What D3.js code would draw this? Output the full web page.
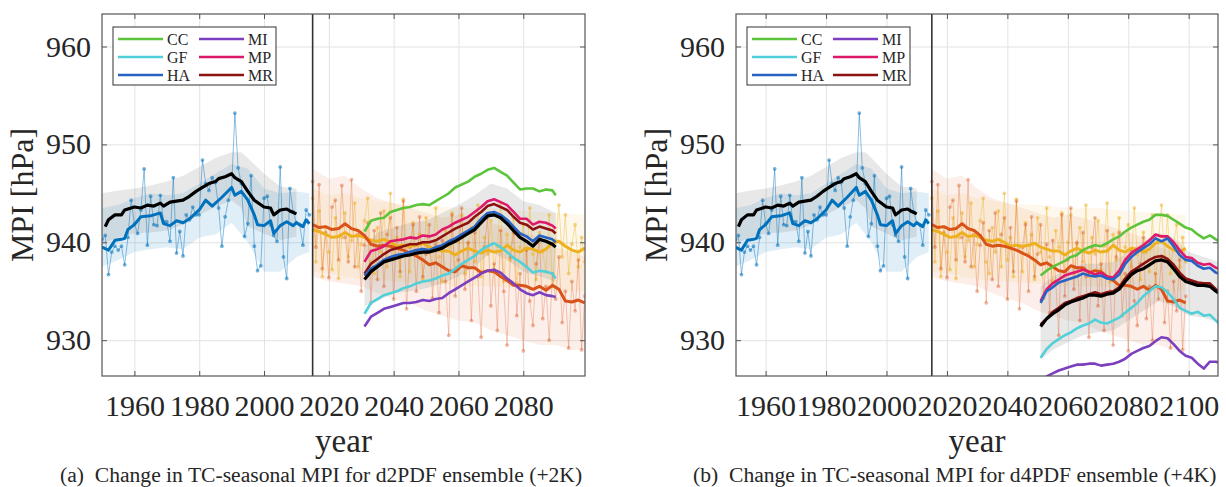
<!DOCTYPE html>
<html>
<head>
<meta charset="utf-8">
<script src="https://cdn.jsdelivr.net/npm/d3@7"></script>
<style>
  body { margin: 0; background: #fff; }
  svg text { font-family: "Liberation Serif", "Times New Roman", serif; fill: #262626; }
</style>
</head>
<body>
<svg id="chart" width="1226" height="487"></svg>
<script>
// ---- data ----
const histYears = d3.range(1950, 2015);
const histObs = [940.3,940.7,936.7,939.0,939.6,939.2,939.6,937.7,940.5,944.3,
  941.9,940.9,943.3,947.5,939.7,944.7,941.8,941.7,944.8,942.1,
  942.1,940.1,946.6,938.9,941.1,938.6,942.8,942.3,943.6,942.8,
  942.8,948.4,946.0,945.3,946.6,946.1,943.5,939.6,942.6,944.3,
  945.5,953.2,947.6,946.0,940.6,941.9,946.8,939.6,937.1,937.6,
  944.5,944.7,941.8,940.7,940.1,947.7,938.5,936.3,945.5,943.1,
  942.0,941.8,939.7,943.3,942.8];

const histSmoothYears = [1950,1952,1954,1956,1957,1958,1960,1962,1965,1968,1969,1971,1973,1975,1977,1980,1982,1984,1987,1990,1991,1993,1995,1997,1998,2000,2002,2003,2005,2007,2009,2010,2012,2013,2014];
const histSmooth = [939.5,939.2,940.2,940.3,940.4,941.3,941.8,942.6,942.7,943.0,941.9,941.7,942.2,942.0,942.4,943.3,944.3,943.7,944.6,945.6,944.8,945.2,944.3,942.8,941.8,941.7,942.2,940.9,941.7,942.1,941.7,942.0,941.6,942.3,941.9];

const histEnsYears = [1951,1952,1954,1956,1957,1960,1962,1964,1966,1968,1969,1971,1973,1975,1977,1979,1981,1983,1985,1986,1988,1990,1991,1993,1995,1997,2000,2002,2003,2005,2007,2008,2010];
const histEns = [941.6,942.3,942.8,942.8,943.3,943.6,943.5,943.8,943.7,944.0,943.7,944.1,944.2,944.3,944.7,945.2,945.6,946.0,946.2,946.5,946.7,947.0,946.6,946.2,945.2,944.3,943.6,943.5,942.8,943.3,943.4,943.2,942.9];

const obsBandYears = [1950,1955,1960,1965,1970,1975,1980,1985,1990,1995,2000,2005,2010,2014];
const obsBandUp = [943.5,943.8,944.5,945.0,944.8,945.0,946.0,947.0,948.0,947.5,945.5,945.0,945.2,945.0];
const obsBandLo = [937.5,938.2,939.0,939.3,939.5,939.3,940.5,940.8,942.0,940.0,937.0,937.0,938.5,939.0];

const histEnsBandYears = [1950,1955,1960,1965,1970,1975,1980,1985,1990,1993,1995,2000,2005,2010];
const histEnsBandUp = [945.0,945.3,945.5,945.8,946.2,946.8,947.7,948.6,949.2,949.2,948.6,947.0,945.7,945.5];
const histEnsBandLo = [939.8,940.5,940.9,941.0,941.2,941.8,942.8,943.6,944.3,943.5,941.6,940.9,940.2,940.6];

const futYears = d3.range(2015, 2100);
const futOrange = [946.2,939.5,945.9,937.3,941.0,936.4,943.6,944.3,938.2,945.8,
  940.5,938.0,946.4,937.5,940.8,935.0,939.7,942.0,933.8,941.2,
  936.2,943.0,935.5,940.8,942.5,934.2,941.5,937.0,944.2,933.2,
  939.5,941.8,935.0,942.6,936.5,938.8,941.8,934.3,939.8,932.8,
  940.2,936.0,930.5,942.8,934.5,938.2,943.5,935.2,940.0,932.0,
  941.0,936.5,930.3,939.5,942.5,933.5,937.8,931.0,941.2,935.0,
  929.5,938.5,941.0,932.5,936.8,928.9,939.2,934.0,931.5,937.8,
  940.5,932.2,935.5,930.0,936.8,934.2,938.5,931.8,935.0,929.2,
  936.0,933.0,938.2,929.0,934.5];
const futYellow = [944.5,938.0,943.2,936.5,941.5,939.0,937.2,942.5,936.3,940.5,
  943.0,938.5,940.2,944.0,937.5,939.8,942.2,944.5,938.0,936.8,
  941.5,939.0,943.2,937.5,945.0,938.2,940.5,936.5,944.4,939.5,
  937.0,942.0,938.8,940.8,936.2,942.5,939.0,937.8,943.5,938.5,
  936.0,941.2,939.5,943.0,937.0,940.0,942.8,936.8,939.8,941.5,
  938.0,943.8,936.5,940.5,938.8,942.2,937.2,939.6,944.0,936.0,
  940.8,938.2,942.5,935.8,939.5,941.8,937.5,943.5,938.8,936.2,
  941.0,939.0,937.0,942.8,935.5,940.2,943.8,938.5,942.8,936.8,
  939.8,941.8,937.5,940.5,938.0];

const futSmoothYears = [2015,2017,2019,2021,2023,2025,2027,2029,2031,2033,2035,2037,2039,2041,2043,2045,2047,2049,2051,2053,2055,2057,2059,2061,2063,2065,2067,2069,2071,2073,2075,2077,2079,2081,2083,2085,2087,2089,2091,2093,2095,2097,2099];
const futOrangeSmooth = [941.8,941.5,941.6,941.3,941.4,941.9,941.4,941.2,940.7,939.8,939.6,939.7,939.6,939.4,939.2,938.9,938.6,938.2,937.7,937.9,937.5,937.1,937.0,937.6,937.4,937.4,936.9,937.1,937.0,936.5,936.1,935.6,935.6,935.5,935.2,935.5,935.1,935.6,935.2,934.0,933.9,934.1,933.8];
const futYellowSmooth = [941.3,941.1,940.8,940.5,940.6,941.0,940.6,940.7,940.5,940.2,940.1,940.3,940.0,939.6,939.7,939.6,939.7,939.9,939.5,939.3,939.1,939.1,938.7,939.1,939.4,939.1,938.9,939.2,939.0,939.1,939.7,939.2,939.0,939.4,939.3,939.0,939.3,939.9,940.1,939.6,939.2,939.0,939.4];

const orangeBandYears = [2015,2020,2025,2030,2035,2040,2045,2050,2055,2060,2065,2070,2075,2080,2085,2090,2095,2099];
const orangeBandUp = [947.5,946.5,946.8,945.5,944.5,944.0,943.5,943.0,942.5,942.8,942.5,942.0,941.5,941.0,940.5,939.5,939.0,938.5];
const orangeBandLo = [936.5,936.0,935.8,935.5,934.8,934.2,933.8,933.0,932.5,932.0,931.8,931.0,930.5,930.0,929.5,929.5,929.0,929.0];
const yellowBandYears = [2015,2020,2025,2030,2040,2050,2060,2070,2080,2090,2099];
const yellowBandUp = [945.5,944.8,945.0,944.5,944.0,943.8,943.5,943.5,943.2,943.0,942.8];
const yellowBandLo = [937.0,936.8,936.5,936.2,936.0,935.8,935.5,935.5,935.2,935.0,935.0];

const modelNames = ["CC", "GF", "HA", "MI", "MP", "MR"];

// (a) +2K, 2031-2090
const yearsA = [2031,2033,2035,2037,2039,2041,2043,2045,2047,2049,2051,2053,2055,2057,2059,2061,2063,2065,2067,2069,2071,2073,2075,2077,2079,2081,2083,2085,2087,2089,2090];
const ccA = [941.1,942.2,942.4,942.5,943.1,943.3,943.5,943.6,943.8,943.9,943.8,944.2,944.6,945.0,945.6,945.9,946.2,946.7,947.0,947.4,947.6,947.2,946.8,946.1,945.4,945.5,945.5,945.2,945.4,945.3,944.8];
const gfA = [932.7,933.8,934.2,934.6,934.8,935.0,935.3,935.5,935.8,936.0,936.1,936.3,936.6,936.8,937.3,937.8,938.2,938.6,939.2,939.6,939.9,939.5,939.0,938.4,938.0,937.5,936.9,937.1,937.0,936.8,936.3];
const haA = [936.6,937.3,937.7,938.2,938.5,938.7,938.8,939.0,939.2,939.3,939.2,939.5,939.7,940.1,940.4,940.8,941.2,941.6,942.4,943.0,943.1,942.8,942.3,941.6,940.9,940.6,940.1,940.7,940.5,940.3,940.0];
const miA = [931.4,932.4,932.8,933.2,933.4,933.6,933.8,933.8,933.9,934.1,934.0,934.2,934.3,934.8,935.2,935.6,936.0,936.4,936.8,937.1,937.2,936.9,936.3,935.8,935.2,934.8,934.6,934.9,934.6,934.5,934.4];
const mpA = [938.0,939.1,939.3,939.6,940.1,940.2,940.3,940.5,940.4,940.7,940.6,940.8,941.3,941.6,942.0,942.3,942.6,943.1,943.6,944.2,944.4,944.1,943.8,943.1,942.4,942.4,941.8,942.1,942.0,941.7,941.4];
const mrA = [936.8,937.8,938.3,938.8,939.2,939.4,939.6,939.8,939.8,940.0,940.0,940.2,940.6,941.0,941.4,941.7,942.0,942.6,943.1,943.7,943.9,943.6,943.3,942.6,942.0,941.8,941.3,941.6,941.4,941.2,940.9];
const ensA = [936.2,937.0,937.5,938.0,938.2,938.4,938.6,938.7,938.9,939.0,939.0,939.2,939.4,939.8,940.1,940.5,940.9,941.3,942.0,942.7,942.8,942.5,941.9,941.2,940.5,940.1,939.6,940.3,940.1,939.8,939.5];
const ensBandYearsA = [2031,2035,2040,2045,2050,2055,2060,2065,2070,2075,2080,2085,2090];
const ensBandUpA = [939.5,941.0,941.5,942.0,942.2,943.0,943.8,944.8,946.0,945.5,944.2,943.8,943.0];
const ensBandLoA = [933.5,934.0,934.8,935.0,935.3,935.8,936.5,937.5,939.0,938.2,937.0,936.5,936.0];

// (b) +4K, 2051-2110
const yearsB = [2051,2053,2055,2057,2059,2061,2063,2065,2067,2069,2071,2073,2075,2077,2079,2081,2083,2085,2087,2089,2091,2093,2095,2097,2099,2101,2103,2105,2107,2109,2110];
const ccB = [936.6,937.1,937.5,937.8,938.1,938.5,938.7,939.2,939.5,939.7,939.6,939.9,940.3,940.6,941.1,941.5,941.8,942.1,942.3,942.8,942.8,942.7,942.3,941.9,941.5,941.3,940.8,940.4,940.7,940.3,940.1];
const gfB = [928.2,929.1,929.7,930.1,930.5,930.8,931.2,931.5,931.7,932.1,931.8,931.7,932.0,932.3,932.8,933.3,933.8,934.5,935.0,935.5,935.4,934.9,934.2,933.3,933.0,932.7,932.9,932.5,932.6,932.0,931.7];
const haB = [933.8,935.0,935.4,935.9,936.1,936.3,936.5,936.8,936.6,936.5,936.6,936.3,936.2,936.7,937.8,938.5,939.0,939.4,939.8,940.4,940.1,940.4,939.6,938.7,938.2,938.1,937.6,937.3,937.4,936.9,936.8];
const miB = [925.8,926.3,926.6,926.9,927.1,927.3,927.5,927.5,927.6,927.6,927.4,927.5,927.6,927.8,928.1,928.6,928.9,929.2,929.4,929.9,930.3,930.2,929.6,928.9,928.4,928.2,927.6,927.1,927.8,927.8,927.7];
const mpB = [934.0,935.2,935.8,936.2,936.6,936.8,937.0,937.2,937.0,936.7,936.9,936.5,936.4,937.1,938.2,938.9,939.3,939.7,940.2,940.8,940.6,940.6,940.0,939.2,938.5,938.4,937.9,937.7,937.8,937.4,937.3];
const mrB = [931.6,932.2,932.9,933.3,933.8,934.0,934.3,934.5,934.7,934.9,934.7,934.9,935.0,935.4,936.3,937.0,937.4,937.8,938.2,938.5,938.6,938.3,937.7,936.9,936.3,936.1,935.9,935.8,935.8,935.2,935.0];
const ensB = [931.4,932.2,932.7,933.1,933.6,933.9,934.1,934.3,934.6,934.6,934.5,934.7,934.8,935.2,936.0,936.7,937.1,937.3,937.7,938.1,938.2,938.0,937.3,936.5,936.0,935.8,935.6,935.6,935.5,935.0,934.8];
const ensBandYearsB = [2051,2055,2060,2065,2070,2075,2080,2085,2090,2095,2100,2105,2110];
const ensBandUpB = [935.5,936.5,937.2,937.8,937.8,938.0,939.0,940.0,941.0,940.5,939.0,938.5,938.0];
const ensBandLoB = [928.0,929.0,929.8,930.5,930.8,931.0,932.0,933.0,934.0,933.5,932.5,932.3,931.8];

const yTicks = [930, 940, 950, 960];
const xTicksA = [1960, 1980, 2000, 2020, 2040, 2060, 2080];
const xTicksB = [1960, 1980, 2000, 2020, 2040, 2060, 2080, 2100];

const colors = { CC: "#5bc43a", GF: "#52d0da", HA: "#2663c4", MI: "#7b3fbf", MP: "#e0186c", MR: "#8c1111" };
const cObs = "#0072bd", cOr = "#d95319", cYe = "#edb120";

const svg = d3.select("#chart");

function drawPanel(p) {
  const top = 14, bottom = 376;
  const x = d3.scaleLinear().domain(p.xDomain).range([p.left, p.right]);
  const y = d3.scaleLinear().domain([926.34, 963.32]).range([bottom, top]);
  const g = svg.append("g");

  // grid
  g.append("g").attr("transform", `translate(0,${bottom})`)
    .call(d3.axisBottom(x).tickValues(p.xTicks).tickSize(-(bottom - top)).tickFormat(""))
    .call(a => a.select(".domain").remove())
    .selectAll("line").attr("stroke", "#e3e3e3");
  g.append("g").attr("transform", `translate(${p.left},0)`)
    .call(d3.axisLeft(y).tickValues(yTicks).tickSize(-(p.right - p.left)).tickFormat(""))
    .call(a => a.select(".domain").remove())
    .selectAll("line").attr("stroke", "#e3e3e3");

  const clipId = "clip" + p.id;
  svg.append("clipPath").attr("id", clipId).append("rect")
    .attr("x", p.left).attr("y", top).attr("width", p.right - p.left).attr("height", bottom - top);
  const plot = g.append("g").attr("clip-path", `url(#${clipId})`);

  const band = (yrs, up, lo, color, op) => {
    const area = d3.area().x((d, i) => x(yrs[i])).y0((d, i) => y(lo[i])).y1(d => y(d));
    plot.append("path").attr("d", area(up)).attr("fill", color).attr("opacity", op);
  };
  const line = (yrs, vals, color, w, op) => {
    const l = d3.line().x((d, i) => x(yrs[i])).y(d => y(d));
    plot.append("path").attr("d", l(vals)).attr("fill", "none")
      .attr("stroke", color).attr("stroke-width", w).attr("opacity", op || 1)
      .attr("stroke-linejoin", "round");
  };
  const dots = (yrs, vals, color, op) => {
    plot.append("g").selectAll("circle").data(vals).join("circle")
      .attr("cx", (d, i) => x(yrs[i])).attr("cy", d => y(d)).attr("r", 1.9)
      .attr("fill", color).attr("opacity", op);
  };

  // shaded ranges
  band(obsBandYears, obsBandUp, obsBandLo, cObs, 0.12);
  band(histEnsBandYears, histEnsBandUp, histEnsBandLo, "#7f7f7f", 0.18);
  band(orangeBandYears, orangeBandUp, orangeBandLo, cOr, 0.09);
  band(yellowBandYears, yellowBandUp, yellowBandLo, cYe, 0.09);
  band(p.bandYears, p.bandUp, p.bandLo, "#7f7f7f", 0.18);

  // annual values
  line(futYears, futYellow, cYe, 1, 0.4);
  dots(futYears, futYellow, cYe, 0.5);
  line(futYears, futOrange, cOr, 1, 0.3);
  dots(futYears, futOrange, cOr, 0.4);
  line(histYears, histObs, cObs, 1, 0.45);
  dots(histYears, histObs, cObs, 0.55);

  // smoothed
  line(histSmoothYears, histSmooth, cObs, 3);
  line(histEnsYears, histEns, "#000", 3.2);
  line(futSmoothYears, futYellowSmooth, cYe, 3);
  line(futSmoothYears, futOrangeSmooth, cOr, 3);

  // model runs
  ["CC", "GF", "MI", "MP", "MR", "HA"].forEach(n => line(p.years, p.models[n], colors[n], 2.6));
  line(p.years, p.ens, "#000", 3.2);

  // 2015 divider
  g.append("line").attr("x1", x(2015)).attr("x2", x(2015)).attr("y1", top).attr("y2", bottom)
    .attr("stroke", "#333").attr("stroke-width", 1.6);

  // axes with inward ticks
  const ax = g.append("g").attr("transform", `translate(0,${bottom})`)
    .call(d3.axisBottom(x).tickValues(p.xTicks).tickSize(-5).tickPadding(19).tickFormat(d3.format("d")));
  ax.select(".domain").remove();
  ax.selectAll("text").attr("font-size", 30).attr("font-family", "Liberation Serif");
  const ay = g.append("g").attr("transform", `translate(${p.left},0)`)
    .call(d3.axisLeft(y).tickValues(yTicks).tickSize(-5).tickPadding(11));
  ay.select(".domain").remove();
  ay.selectAll("text").attr("font-size", 30).attr("font-family", "Liberation Serif");
  g.append("g").attr("transform", `translate(0,${top})`)
    .call(d3.axisTop(x).tickValues(p.xTicks).tickSize(-5).tickFormat(""))
    .select(".domain").remove();
  g.append("g").attr("transform", `translate(${p.right},0)`)
    .call(d3.axisRight(y).tickValues(yTicks).tickSize(-5).tickFormat(""))
    .select(".domain").remove();
  g.selectAll(".tick line").filter(function () { return d3.select(this).attr("stroke") !== "#e3e3e3"; })
    .attr("stroke", "#555");
  g.append("rect").attr("x", p.left).attr("y", top).attr("width", p.right - p.left).attr("height", bottom - top)
    .attr("fill", "none").attr("stroke", "#555").attr("stroke-width", 1.2);

  // labels
  g.append("text").attr("transform", `translate(${p.left - 69},195) rotate(-90)`)
    .attr("text-anchor", "middle").attr("font-size", 32).text("MPI [hPa]");
  g.append("text").attr("x", (p.left + p.right) / 2).attr("y", 452)
    .attr("text-anchor", "middle").attr("font-size", 33).text("year");
  g.append("text").attr("x", p.captionX).attr("y", 482).attr("font-size", 21.6)
    .attr("xml:space", "preserve").style("white-space", "pre").text(p.caption);

  // legend
  const lx = p.left + 11, ly = 27;
  const lg = g.append("g");
  lg.append("rect").attr("x", lx).attr("y", ly).attr("width", 163).attr("height", 58)
    .attr("fill", "#fff").attr("stroke", "#333").attr("stroke-width", 1);
  modelNames.forEach((n, i) => {
    const col = Math.floor(i / 3), row = i % 3;
    const x0 = lx + 5 + col * 81, yy = ly + 12 + row * 18;
    lg.append("line").attr("x1", x0).attr("x2", x0 + 45).attr("y1", yy).attr("y2", yy)
      .attr("stroke", colors[n]).attr("stroke-width", 2.6);
    lg.append("text").attr("x", x0 + 49).attr("y", yy + 5.5).attr("font-size", 16).text(n);
  });
}

drawPanel({
  id: "a", left: 102, right: 585, xDomain: [1950, 2099.05], xTicks: xTicksA,
  years: yearsA, models: { CC: ccA, GF: gfA, HA: haA, MI: miA, MP: mpA, MR: mrA }, ens: ensA,
  bandYears: ensBandYearsA, bandUp: ensBandUpA, bandLo: ensBandLoA,
  captionX: 60, caption: "(a)  Change in TC-seasonal MPI for d2PDF ensemble (+2K)"
});
drawPanel({
  id: "b", left: 736, right: 1218, xDomain: [1950.2, 2109.7], xTicks: xTicksB,
  years: yearsB, models: { CC: ccB, GF: gfB, HA: haB, MI: miB, MP: mpB, MR: mrB }, ens: ensB,
  bandYears: ensBandYearsB, bandUp: ensBandUpB, bandLo: ensBandLoB,
  captionX: 693, caption: "(b)  Change in TC-seasonal MPI for d4PDF ensemble (+4K)"
});
</script>
</body>
</html>
